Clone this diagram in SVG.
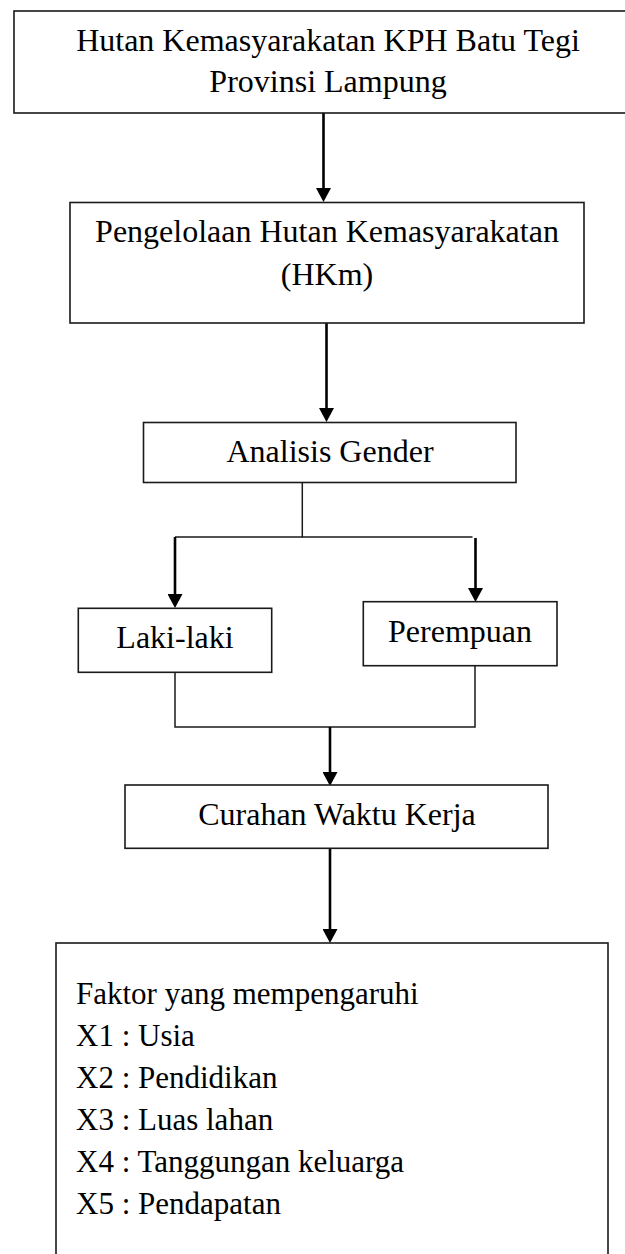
<svg xmlns="http://www.w3.org/2000/svg" width="625" height="1254" viewBox="0 0 625 1254">
<style>
.box{fill:#fff;stroke:#1a1a1a;stroke-width:1.6}
.t{font-family:"Liberation Serif","Times New Roman",serif;font-size:32px;fill:#000}
.s{font-size:31px}
.c{text-anchor:middle}
.ln{stroke:#000;stroke-width:2.6;fill:none}
.thin{stroke:#1a1a1a;stroke-width:1.5;fill:none}
</style>
<defs>
<marker id="ah" markerUnits="userSpaceOnUse" markerWidth="14" markerHeight="15" viewBox="0 0 14 15" refX="3" refY="7.5" orient="auto">
<path d="M0,0 L14,7.5 L0,15 Z" fill="#000"/>
</marker>
</defs>
<rect width="625" height="1254" fill="#fff"/>
<g id="connectors">
<line class="ln" x1="323.5" y1="113" x2="323.5" y2="191" marker-end="url(#ah)"/>
<line class="ln" x1="326.5" y1="323" x2="326.5" y2="411" marker-end="url(#ah)"/>
<polyline class="thin" points="302.3,483 302.3,537 175,537"/>
<line class="thin" x1="302.3" y1="537" x2="472.5" y2="537"/>
<line class="ln" x1="175" y1="537" x2="175" y2="597" marker-end="url(#ah)"/>
<line class="ln" x1="475.5" y1="538" x2="475.5" y2="591" marker-end="url(#ah)"/>
<polyline class="thin" points="175,672 175,727 475,727 475,666"/>
<line class="ln" x1="330" y1="727" x2="330" y2="775" marker-end="url(#ah)"/>
<line class="ln" x1="330" y1="848" x2="330" y2="932" marker-end="url(#ah)"/>
</g>
<g id="n1">
<rect class="box" x="14" y="11" width="640" height="102"/>
<text class="t c" x="328" y="51">Hutan Kemasyarakatan KPH Batu Tegi</text>
<text class="t c" x="328" y="92">Provinsi Lampung</text>
</g>
<g id="n2">
<rect class="box" x="70" y="202.5" width="514" height="120.5"/>
<text class="t c" x="327" y="241.5">Pengelolaan Hutan Kemasyarakatan</text>
<text class="t c" x="327" y="285">(HKm)</text>
</g>
<g id="n3">
<rect class="box" x="143.5" y="422.5" width="372.5" height="60"/>
<text class="t c" x="330" y="461.7">Analisis Gender</text>
</g>
<g id="n4">
<rect class="box" x="78.3" y="608.3" width="193.4" height="64"/>
<text class="t c" x="175" y="647.5">Laki-laki</text>
</g>
<g id="n5">
<rect class="box" x="363.3" y="601.7" width="193.7" height="64"/>
<text class="t c" x="460" y="641.7">Perempuan</text>
</g>
<g id="n6">
<rect class="box" x="125" y="785" width="423" height="63.3"/>
<text class="t c" x="337" y="825">Curahan Waktu Kerja</text>
</g>
<g id="n7">
<rect class="box" x="56" y="943" width="552" height="340"/>
<text class="t s" x="76" y="1004">Faktor yang mempengaruhi</text>
<text class="t s" x="76" y="1046">X1 : Usia</text>
<text class="t s" x="76" y="1088">X2 : Pendidikan</text>
<text class="t s" x="76" y="1130">X3 : Luas lahan</text>
<text class="t s" x="76" y="1172">X4 : Tanggungan keluarga</text>
<text class="t s" x="76" y="1214">X5 : Pendapatan</text>
</g>
</svg>
